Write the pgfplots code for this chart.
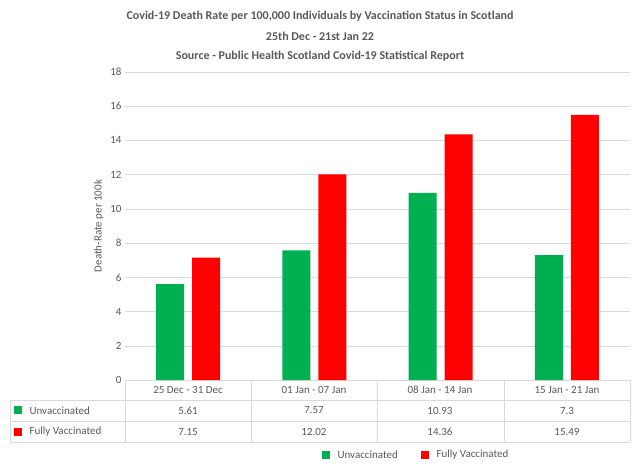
\documentclass[border=0pt]{standalone}
\usepackage{pgfplots}
\pgfplotsset{compat=1.18}
\usepackage{fontspec}
\setmainfont{Carlito}
\definecolor{gr}{HTML}{00B050}
\definecolor{rd}{HTML}{FF0000}
\definecolor{tx}{HTML}{595959}
\definecolor{ln}{HTML}{D9D9D9}
\begin{document}
\begin{tikzpicture}[x=1pt,y=1pt]
\path (0,0) rectangle (639,-469);
\begin{axis}[at={(125pt,-380pt)},anchor=south west,scale only axis,width=505pt,height=308pt,
  ymin=0,ymax=18,ytick={0,2,...,18},xmin=-0.5,xmax=3.5,xtick=\empty,
  ybar=8pt,bar width=28pt,
  axis x line*=bottom,axis y line*=left,
  x axis line style={ln,-},y axis line style={draw=none},
  ymajorgrids,grid style={ln},
  yticklabel style={font=\fontsize{11}{13}\selectfont,text=tx},
  /pgf/number format/assume math mode=true,
  ylabel={Death-Rate per 100k},ylabel style={font=\fontsize{11}{13}\selectfont,text=tx},
  major tick length=0pt,clip=false]
\addplot[fill=gr,draw=none] coordinates {(0,5.61)(1,7.57)(2,10.93)(3,7.3)};
\addplot[fill=rd,draw=none] coordinates {(0,7.15)(1,12.02)(2,14.36)(3,15.49)};
\end{axis}
\foreach \y in {-400,-421,-442} \draw[ln] (10,\y)--(630,\y);
\draw[ln] (10,-400)--(10,-442);
\foreach \x in {125,251,377,504,630} \draw[ln] (\x,-380)--(\x,-442);
\begin{scope}[every node/.style={font=\fontsize{11}{13}\selectfont,text=tx}]
\node at (188,-390) {25 Dec - 31 Dec};
\node at (314,-390) {01 Jan - 07 Jan};
\node at (440,-390) {08 Jan - 14 Jan};
\node at (567,-390) {15 Jan - 21 Jan};
\fill[gr] (14,-406) rectangle (22,-414);
\node[anchor=west] at (26,-410.5) {Unvaccinated};
\fill[rd] (14,-427.5) rectangle (22,-435.5);
\node[anchor=west] at (26,-431.5) {Fully Vaccinated};
\node at (188,-410.5) {5.61};\node at (314,-410.5) {7.57};
\node at (440,-410.5) {10.93};\node at (567,-410.5) {7.3};
\node at (188,-431.5) {7.15};\node at (314,-431.5) {12.02};
\node at (440,-431.5) {14.36};\node at (567,-431.5) {15.49};
\fill[gr] (322,-451) rectangle (330,-459);
\node[anchor=west] at (334,-455) {Unvaccinated};
\fill[rd] (421,-451) rectangle (429,-459);
\node[anchor=west] at (433,-455) {Fully Vaccinated};
\end{scope}
\begin{scope}[every node/.style={font=\fontsize{12}{14}\selectfont\bfseries,text=tx}]
\node at (320,-16) {Covid-19 Death Rate per 100,000 Individuals by Vaccination Status in Scotland};
\node at (320,-36) {25th Dec - 21st Jan 22};
\node at (320,-56) {Source - Public Health Scotland Covid-19 Statistical Report};
\end{scope}
\end{tikzpicture}
\end{document}
